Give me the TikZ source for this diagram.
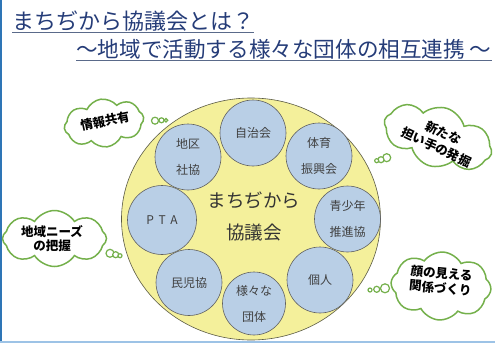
\documentclass[tikz,border=0pt]{standalone}
\usepackage{fontspec}
\usetikzlibrary{shapes.geometric,shapes.symbols}
\newfontfamily\cjk{Noto Sans CJK JP}
\definecolor{titleblue}{HTML}{253C78}
\definecolor{ulcol}{HTML}{5A6A8A}
\definecolor{ellfill}{HTML}{F4F09B}
\definecolor{elldraw}{HTML}{5A5A45}
\definecolor{cirfill}{HTML}{B9CFE6}
\definecolor{cirdraw}{HTML}{606060}
\definecolor{cirtext}{HTML}{404040}
\definecolor{cloudgreen}{HTML}{74B04B}
\definecolor{leftblue}{HTML}{2E75B6}
\definecolor{bottomblue}{HTML}{9DC3E6}
\tikzset{
  titletext/.style={anchor=base west, inner sep=0pt, text=titleblue, font=\cjk\fontsize{22}{24}\selectfont},
  uline/.style={draw=ulcol, line width=0.9pt},
  member/.style={circle, draw=cirdraw, line width=0.6pt, fill=cirfill, minimum size=66pt, inner sep=0pt,
    text=cirtext, align=center, font=\cjk\fontsize{12}{26}\selectfont},
  thought/.style={cloud, cloud puffs=8, cloud puff arc=115, draw=cloudgreen, line width=1.5pt, fill=white, inner sep=0pt},
  bubble/.style={circle, draw=cloudgreen, line width=1.2pt, fill=white, inner sep=0pt},
  cloudtext/.style={align=center, inner sep=0pt, text=black, font=\cjk\bfseries\fontsize{12.5}{15}\selectfont}
}
\begin{document}
\begin{tikzpicture}[x=1pt,y=-1pt]
\useasboundingbox (0,0) rectangle (495,343);
\fill[white] (0,0) rectangle (495,343);

% title
\node[titletext] (t1) at (12,29) {まちぢから協議会とは？};
\draw[uline] ([yshift=-3.5pt]t1.base west) -- ([yshift=-3.5pt]t1.base east);
\node[titletext, font=\cjk\fontsize{21.6}{24}\selectfont] (t2) at (76,57) {～地域で活動する様々な団体の相互連携 ～};
\draw[uline] ([yshift=-3.5pt]t2.base west) -- ([yshift=-3.5pt]t2.base east);

% big ellipse
\node[ellipse, draw=elldraw, line width=0.6pt, fill=ellfill, minimum width=259pt, minimum height=242pt, inner sep=0pt] (big) at (251,219) {};
\node[align=center, inner sep=0pt, text=black!80, font=\cjk\fontsize{18.5}{32}\selectfont] (core) at (254,216) {まちぢから\\協議会};

% member circles
\node[member] (jichi) at (253,133) {自治会};
\node[member] (chiku) at (188,157) {地区\\社協};
\node[member] (taiiku) at (319,156) {体育\\振興会};
\node[member, minimum size=69pt] (pta) at (162,220) {P\,\ T\,\ A};
\node[member] (seisho) at (347.5,219) {青少年\\推進協};
\node[member] (minji) at (189,282.5) {民児協};
\node[member] (kojin) at (320,280) {個人};
\node[member, minimum size=63pt] (samazama) at (254,303.5) {様々な\\団体};

% thought clouds
\node[thought, minimum width=80pt, minimum height=48pt, rotate=8] (c1) at (104,123) {};
\node[bubble, minimum size=7pt] (c1b1) at (155,120.7) {};
\node[bubble, minimum size=5pt] (c1b2) at (161.5,120.3) {};
\node[bubble, minimum size=3.5pt] (c1b3) at (166,120.3) {};
\node[cloudtext, rotate=12] (c1t) at (105,121) {情報共有};

\node[thought, minimum width=112pt, minimum height=60pt, rotate=-18] (c2) at (438,137) {};
\node[bubble, minimum size=8pt] (c2b1) at (386.7,157.7) {};
\node[bubble, minimum size=6pt] (c2b2) at (381,159.7) {};
\node[bubble, minimum size=4pt] (c2b3) at (376.7,160.7) {};
\node[cloudtext, rotate=-25, font=\cjk\bfseries\fontsize{12.5}{16}\selectfont] (c2t) at (440,140) {新たな\\担い手の発掘};

\node[thought, minimum width=104pt, minimum height=56pt] (c3) at (54.5,238.5) {};
\node[bubble, minimum size=8pt] (c3b1) at (110,253.3) {};
\node[bubble, minimum size=6pt] (c3b2) at (115.7,254.7) {};
\node[bubble, minimum size=4pt] (c3b3) at (120,255.7) {};
\node[cloudtext, font=\cjk\bfseries\fontsize{12.5}{13.5}\selectfont] (c3t) at (52,238.5) {地域ニーズ\\の把握};

\node[thought, minimum width=100pt, minimum height=68pt, rotate=-4] (c4) at (441,286) {};
\node[bubble, minimum size=9pt] (c4b1) at (385,288.3) {};
\node[bubble, minimum size=6pt] (c4b2) at (376.7,289.3) {};
\node[bubble, minimum size=4pt] (c4b3) at (370,290) {};
\node[cloudtext, rotate=-5] (c4t) at (441,280.5) {顔の見える\\関係づくり};

% frame edges
\fill[leftblue] (0,0) rectangle (2,343);
\fill[bottomblue] (0,340.5) rectangle (495,343);
\end{tikzpicture}
\end{document}
